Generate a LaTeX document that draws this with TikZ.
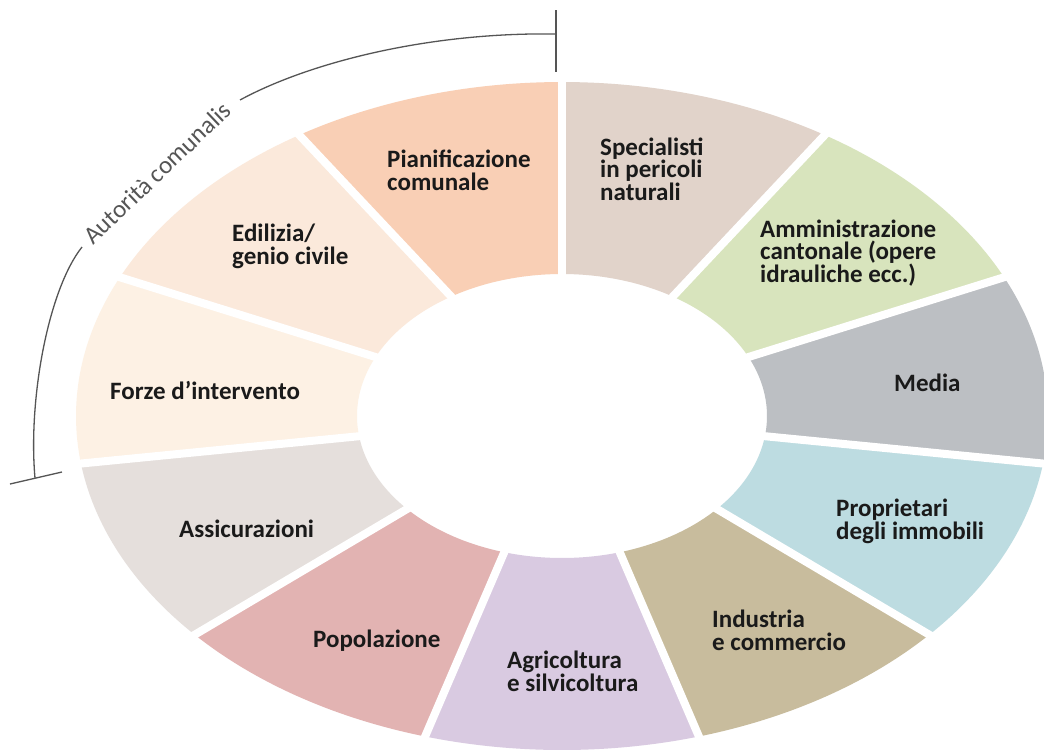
\documentclass[tikz,border=0pt]{standalone}
\usepackage{fontspec}
\setmainfont{Carlito}
\usetikzlibrary{calc}
\definecolor{cPian}{HTML}{F9CFB5}
\definecolor{cEdil}{HTML}{FBE9DB}
\definecolor{cForz}{HTML}{FDF1E4}
\definecolor{cSpec}{HTML}{E1D3CA}
\definecolor{cAmm}{HTML}{D8E4BD}
\definecolor{cMed}{HTML}{BCBFC3}
\definecolor{cProp}{HTML}{BDDCE1}
\definecolor{cInd}{HTML}{C8BC9D}
\definecolor{cAgr}{HTML}{D9CAE1}
\definecolor{cPop}{HTML}{E2B3B2}
\definecolor{cAss}{HTML}{E5DFDC}
\definecolor{labcol}{HTML}{1A1A1A}
\definecolor{brkcol}{HTML}{555555}
\tikzset{
  lab/.style={font=\bfseries\fontsize{25}{22.5}\selectfont, text=labcol, align=left, anchor=base west, inner sep=0pt},
  brk/.style={draw=brkcol, line width=1.3pt},
  brktext/.style={font=\fontsize{25}{27}\selectfont, text=brkcol, inner sep=0pt},
  gapline/.style={draw=white, line width=8pt}
}
\begin{document}
\begin{tikzpicture}[x=1pt,y=-1pt]
\useasboundingbox (0,0) rectangle (1044,753);
\fill[white] (0,0) rectangle (1044,753);
\def\cx{562}\def\cy{416}\def\ao{486}\def\bo{334}\def\ai{205}\def\bi{142}
% ring segments, clockwise from the top gap
\foreach \k/\col in {0/cSpec,1/cAmm,2/cMed,3/cProp,4/cInd,5/cAgr,6/cPop,7/cAss,8/cForz,9/cEdil,10/cPian}{
  \pgfmathsetmacro\ta{90-\k*32.7272727}
  \pgfmathsetmacro\tb{90-(\k+1)*32.7272727}
  \fill[\col] plot[domain=\ta:\tb, samples=40] ({\cx+\ao*cos(\x)},{\cy-\bo*sin(\x)})
     -- plot[domain=\tb:\ta, samples=40] ({\cx+\ai*cos(\x)},{\cy-\bi*sin(\x)}) -- cycle;
}
% white gaps
\foreach \k in {0,...,10}{
  \pgfmathsetmacro\t{90-\k*32.7272727}
  \coordinate (gin) at ({\cx+\ai*cos(\t)},{\cy-\bi*sin(\t)});
  \coordinate (gout) at ({\cx+\ao*cos(\t)},{\cy-\bo*sin(\t)});
  \draw[gapline] ($(gin)!-0.1!(gout)$) -- ($(gin)!1.05!(gout)$);
}
% labels
\node[lab] (pian) at (387,190) {Pianificazione\\comunale};
\node[lab] (spec) at (600,200) {Specialisti\\in pericoli\\naturali};
\node[lab] (amm) at (760,282) {Amministrazione\\cantonale (opere\\idrauliche ecc.)};
\node[lab] (edil) at (232,264) {Edilizia/\\genio civile};
\node[lab] (forz) at (110,399) {Forze d’intervento};
\node[lab] (media) at (894,391) {Media};
\node[lab] (prop) at (836,539) {Proprietari\\degli immobili};
\node[lab] (ind) at (712,650) {Industria\\e commercio};
\node[lab] (agr) at (507,691) {Agricoltura\\e silvicoltura};
\node[lab] (pop) at (313,647) {Popolazione};
\node[lab] (ass) at (179,537) {Assicurazioni};
% bracket
\coordinate (tk1) at (556,10);
\coordinate (tk2) at (556,72);
\coordinate (a0) at (556,34);
\coordinate (a1) at (240,100);
\coordinate (a2) at (82,247);
\coordinate (a3) at (35,478);
\coordinate (bk1) at (10,484);
\coordinate (bk2) at (62,472);
\draw[brk] (tk1) -- (tk2);
\draw[brk] (bk1) -- (bk2);
\draw[brk] (a0) .. controls (430,32) and (310,62) .. (a1);
\draw[brk] (a2) .. controls (48,290) and (28,400) .. (a3);
\node[brktext, rotate=43.6] (aut) at (157,173) {Autorità comunalis};
\end{tikzpicture}
\end{document}
